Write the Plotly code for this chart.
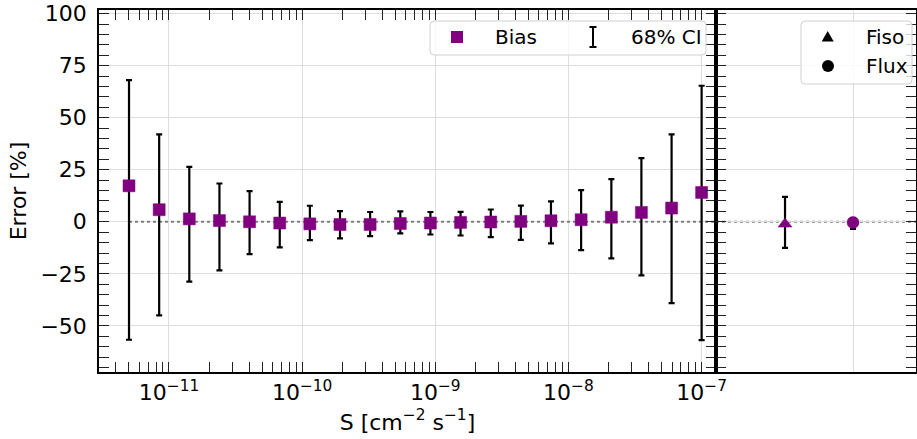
import plotly.graph_objects as go

# ---- data ----
S = [5.01e-12, 8.44e-12, 1.421e-11, 2.393e-11, 4.03e-11, 6.79e-11, 1.143e-10,
     1.925e-10, 3.24e-10, 5.46e-10, 9.19e-10, 1.548e-9, 2.61e-9, 4.39e-9,
     7.39e-9, 1.245e-8, 2.10e-8, 3.53e-8, 5.95e-8, 1.0e-7]
bias = [17.3, 5.8, 1.4, 0.6, 0.0, -0.6, -1.0, -1.3, -1.3, -0.8,
        -0.6, -0.3, -0.1, 0.2, 0.5, 1.0, 2.2, 4.5, 6.6, 14.1]
ci_hi = [68.1, 42.0, 26.4, 18.4, 14.7, 9.6, 7.7, 5.1, 4.7, 5.0,
         4.7, 4.8, 5.9, 7.8, 9.8, 15.2, 20.5, 30.6, 42.0, 65.4]
ci_lo = [-56.7, -45.0, -28.8, -23.4, -15.5, -12.3, -8.8, -8.0, -6.9, -5.6,
         -6.1, -6.6, -7.4, -8.7, -10.4, -13.6, -17.6, -25.8, -39.1, -56.9]

par_names = ["Fiso", "Flux"]
par_bias = [-1.1, -0.3]
par_hi = [12.0, 1.8]
par_lo = [-12.5, -3.4]
par_symbols = ["triangle-up", "circle"]

x_ticks = [1e-11, 1e-10, 1e-9, 1e-8, 1e-7]
x_ticktext = ["10<sup>\u221211</sup>", "10<sup>\u221210</sup>", "10<sup>\u22129</sup>",
              "10<sup>\u22128</sup>", "10<sup>\u22127</sup>"]
y_ticks = [-50, -25, 0, 25, 50, 75, 100]
y_ticktext = ["\u221250", "\u221225", "0", "25", "50", "75", "100"]

PURPLE = "#800080"
FONT = "DejaVu Sans"

# ---- geometry (pixels) ----
W, H = 917, 439
L, R, T, B = 99, 916, 10, 372
split = (716 - L) / (R - L)


def px(x):
    return (x - L) / (R - L)


def py(y):
    return (B - y) / (B - T)


fig = go.Figure()

# zero line, left panel
fig.add_trace(go.Scatter(x=[S[0], 1e-6], y=[0, 0], mode="lines",
                         line=dict(color="#808080", width=2, dash="dot"),
                         showlegend=False, hoverinfo="skip",
                         xaxis="x", yaxis="y"))

err_plus = [h - b for h, b in zip(ci_hi, bias)]
err_minus = [b - l for b, l in zip(bias, ci_lo)]
fig.add_trace(go.Scatter(
    x=S, y=bias, mode="markers",
    marker=dict(size=1, color="rgba(0,0,0,0)"),
    error_y=dict(type="data", symmetric=False, array=err_plus,
                 arrayminus=err_minus, color="black", thickness=2.2, width=3),
    showlegend=False, hoverinfo="skip", xaxis="x", yaxis="y"))
fig.add_trace(go.Scatter(
    x=S, y=bias, mode="markers",
    marker=dict(symbol="square", size=12, color=PURPLE,
                line=dict(color=PURPLE, width=0.5)),
    showlegend=False, xaxis="x", yaxis="y"))

# right panel
pp = [h - b for h, b in zip(par_hi, par_bias)]
pm = [b - l for b, l in zip(par_bias, par_lo)]
fig.add_trace(go.Scatter(
    x=par_names, y=par_bias, mode="markers",
    marker=dict(size=1, color="rgba(0,0,0,0)"),
    error_y=dict(type="data", symmetric=False, array=pp, arrayminus=pm,
                 color="black", thickness=2.2, width=3),
    showlegend=False, hoverinfo="skip", xaxis="x2", yaxis="y2"))
fig.add_trace(go.Scatter(
    x=par_names, y=par_bias, mode="markers",
    marker=dict(symbol=par_symbols, size=[12, 12], color=PURPLE, opacity=1,
                line=dict(color=PURPLE, width=0.5)),
    showlegend=False, xaxis="x2", yaxis="y2"))

axis_common = dict(showline=True, linecolor="black", linewidth=1.5,
                   mirror="ticks", ticks="inside", ticklen=10, tickwidth=1.3,
                   tickcolor="#222222", gridcolor="#dedede", gridwidth=1,
                   zeroline=False, automargin=False, ticklabeloverflow="allow",
                   tickfont=dict(family=FONT, size=22, color="black"))

minor_x = []
for d in range(-12, -6):
    for m in range(2, 10):
        minor_x.append(m * 10.0 ** d)

fig.update_layout(
    width=W, height=H,
    margin=dict(l=L, r=W - R, t=T, b=H - B, autoexpand=False),
    paper_bgcolor="white", plot_bgcolor="white",
    font=dict(family=FONT, size=22, color="black"),
    xaxis=dict(type="log", domain=[0, split], range=[-11.5255, -6.892],
               tickvals=x_ticks, ticktext=x_ticktext, showgrid=True,
               minor=dict(tickvals=minor_x, ticks="inside", ticklen=10,
                          tickwidth=1, tickcolor="#222222", showgrid=False),
               title=dict(text="S [cm<sup>\u22122</sup> s<sup>\u22121</sup>]",
                          font=dict(family=FONT, size=22), standoff=10),
               anchor="y", **axis_common),
    yaxis=dict(domain=[0, 1], range=[-72.2, 101.8], tickvals=y_ticks,
               ticktext=y_ticktext, showgrid=True,
               minor=dict(dtick=5, tick0=0, ticks="inside", ticklen=10,
                          tickwidth=1, tickcolor="#222222", showgrid=False),
               title=dict(text="Error [%]", font=dict(family=FONT, size=22),
                          standoff=8),
               ticklabelstandoff=6,
               anchor="x", **axis_common),
    xaxis2=dict(type="category", domain=[split, 1], range=[-1.015, 1.926],
                tickvals=["Flux"], showticklabels=False, showgrid=True,
                anchor="y2",
                **{**axis_common, "ticks": "", "mirror": True}),
    yaxis2=dict(domain=[0, 1], range=[-72.2, 101.8], tickvals=y_ticks,
                showticklabels=False, showgrid=True, anchor="x2",
                minor=dict(dtick=5, tick0=0, ticks="inside", ticklen=10,
                           tickwidth=1, tickcolor="#222222", showgrid=False),
                **axis_common),
)

# zero line, right panel
fig.add_shape(type="line", xref="x2 domain", yref="y2", x0=0, x1=1, y0=0, y1=0,
              line=dict(color="#808080", width=2, dash="dot"), layer="below")


# ---- legends (drawn manually, matplotlib style) ----
def rounded_box(x0, y0, x1, y1, r=4):
    rx = r / (R - L)
    ry = r / (B - T)
    X0, X1 = px(x0), px(x1)
    Y0, Y1 = py(y1), py(y0)
    path = (f"M{X0 + rx},{Y0} L{X1 - rx},{Y0} Q{X1},{Y0} {X1},{Y0 + ry} "
            f"L{X1},{Y1 - ry} Q{X1},{Y1} {X1 - rx},{Y1} L{X0 + rx},{Y1} "
            f"Q{X0},{Y1} {X0},{Y1 - ry} L{X0},{Y0 + ry} Q{X0},{Y0} {X0 + rx},{Y0} Z")
    fig.add_shape(type="path", xref="paper", yref="paper", path=path,
                  fillcolor="rgba(255,255,255,0.8)",
                  line=dict(color="#d0d0d0", width=1), layer="above")


rounded_box(430, 21, 706, 55)
rounded_box(801, 21, 912, 84)

fig.add_shape(type="rect", xref="paper", yref="paper",
              x0=px(451), x1=px(463), y0=py(43), y1=py(31),
              fillcolor=PURPLE, line=dict(width=0), layer="above")
for (a, b, c, d) in [(593, 27, 593, 47), (589.5, 27, 596.5, 27), (589.5, 47, 596.5, 47)]:
    fig.add_shape(type="line", xref="paper", yref="paper",
                  x0=px(a), y0=py(b), x1=px(c), y1=py(d),
                  line=dict(color="black", width=2), layer="above")
fig.add_shape(type="path", xref="paper", yref="paper",
              path=f"M{px(821.7)},{py(41.5)} L{px(833.7)},{py(41.5)} L{px(827.7)},{py(31)} Z",
              fillcolor="black", line=dict(width=0), layer="above")
fig.add_shape(type="circle", xref="paper", yref="paper",
              x0=px(822), x1=px(834), y0=py(72), y1=py(60),
              fillcolor="black", line=dict(width=0), layer="above")

for txt, x, y in [("Bias", 493, 37), ("68% CI", 629, 37),
                  ("Fiso", 864, 37), ("Flux", 864, 66)]:
    fig.add_annotation(text=txt, xref="paper", yref="paper", x=px(x), y=py(y),
                       xanchor="left", yanchor="middle", showarrow=False,
                       font=dict(family=FONT, size=20, color="black"))

# page without default body margin so the 917x439 figure fills the window
fig.write_html("out.html",
               config=dict(displayModeBar=False),
               post_script="document.body.style.margin='0';"
                           "document.body.style.overflow='hidden';")
